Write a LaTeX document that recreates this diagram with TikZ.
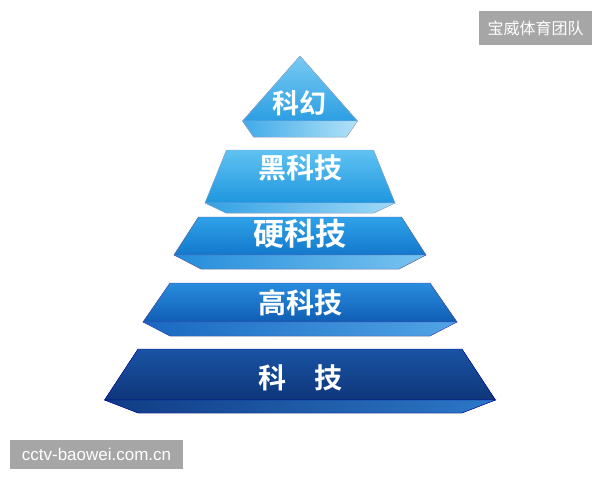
\documentclass[tikz,border=0pt]{standalone}
\usepackage{fontspec}
\newfontfamily\cjk{Noto Sans CJK SC}
\newfontfamily\cjkbold{Noto Sans CJK SC Bold}
\setsansfont{Liberation Sans}
\usetikzlibrary{positioning}

\begin{document}
\begin{tikzpicture}[x=1pt,y=-1pt,
  face/.style={draw=#1,line width=0.4pt,line join=miter},
  tierlabel/.style={text=white,inner sep=0pt,font=\cjkbold\fontsize{28}{28}\selectfont},
  stamp/.style={fill=black!35,text=white,inner sep=0pt,minimum height=34pt}
]
\useasboundingbox (0,0) rectangle (600,480);
\fill[white] (0,0) rectangle (600,480);

% tier 1
\fill[face=cyan!40!blue!40,top color={rgb,255:red,120;green,203;blue,243},bottom color={rgb,255:red,44;green,158;blue,226}] (300.000000,56.000000) -- (357.500000,121.000000) -- (242.500000,121.000000) -- cycle;
\fill[face=cyan!40!blue!40,left color={rgb,255:red,64;green,170;blue,232},right color={rgb,255:red,178;green,226;blue,248}] (242.500000,121.000000) -- (357.500000,121.000000) -- (346.500000,137.000000) -- (253.500000,137.000000) -- cycle;

% tier 2
\fill[face=cyan!40!blue!40,top color={rgb,255:red,96;green,194;blue,242},bottom color={rgb,255:red,30;green,150;blue,222}] (226.500000,150.000000) -- (373.500000,150.000000) -- (395.000000,203.000000) -- (205.000000,203.000000) -- cycle;
\fill[face=cyan!40!blue!40,left color={rgb,255:red,50;green,160;blue,228},right color={rgb,255:red,160;green,218;blue,246}] (205.000000,203.000000) -- (395.000000,203.000000) -- (374.000000,213.000000) -- (226.000000,213.000000) -- cycle;

% tier 3
\fill[face=blue!50!black!60,top color={rgb,255:red,46;green,162;blue,232},bottom color={rgb,255:red,20;green,120;blue,204}] (198.500000,217.000000) -- (401.500000,217.000000) -- (426.000000,255.000000) -- (174.000000,255.000000) -- cycle;
\fill[face=blue!50!black!60,left color={rgb,255:red,36;green,140;blue,218},right color={rgb,255:red,120;green,196;blue,240}] (174.000000,255.000000) -- (426.000000,255.000000) -- (399.000000,269.000000) -- (201.000000,269.000000) -- cycle;

% tier 4
\fill[face=blue!60!black!70,top color={rgb,255:red,40;green,140;blue,222},bottom color={rgb,255:red,16;green,94;blue,180}] (170.000000,283.000000) -- (430.000000,283.000000) -- (457.000000,322.000000) -- (143.000000,322.000000) -- cycle;
\fill[face=blue!60!black!70,left color={rgb,255:red,24;green,104;blue,192},right color={rgb,255:red,80;green,164;blue,230}] (143.000000,322.000000) -- (457.000000,322.000000) -- (430.000000,336.000000) -- (170.000000,336.000000) -- cycle;

% tier 5
\fill[face=blue!70!black,top color={rgb,255:red,26;green,84;blue,164},bottom color={rgb,255:red,14;green,54;blue,122}] (138.000000,349.000000) -- (462.000000,349.000000) -- (495.500000,400.000000) -- (104.500000,400.000000) -- cycle;
\fill[face=blue!70!black,left color={rgb,255:red,16;green,60;blue,132},right color={rgb,255:red,44;green,120;blue,200}] (104.500000,400.000000) -- (495.500000,400.000000) -- (462.000000,413.000000) -- (138.000000,413.000000) -- cycle;

\node[tierlabel,font=\cjkbold\fontsize{27}{27}\selectfont] (scifi) at (299,103) {科幻};
\node[tierlabel] (blacktech) at (300,168) {黑科技};
\node[tierlabel,font=\cjkbold\fontsize{31}{31}\selectfont] (hardtech) at (300,234) {硬科技};
\node[tierlabel] (hightech) at (300,303) {高科技};
\node[tierlabel] (tech) at (300,378) {科　技};

\node[stamp,minimum width=113pt,font=\cjk\fontsize{16}{16}\selectfont] (team) at (535.500000,28.000000) {宝威体育团队};
\node[stamp,minimum width=173pt,minimum height=29pt,font=\sffamily\fontsize{17}{17}\selectfont] (site) at (96.500000,454.500000) {cctv-baowei.com.cn};
\end{tikzpicture}
\end{document}
